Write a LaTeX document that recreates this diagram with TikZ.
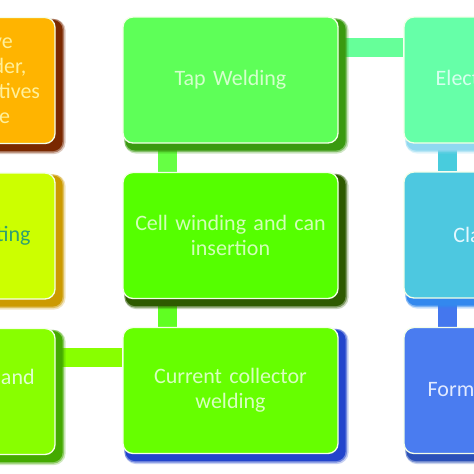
\documentclass[tikz,border=0pt]{standalone}
\usepackage{fontspec}
\setmainfont{Carlito}
\usetikzlibrary{calc}
\pgfdeclarelayer{bg}
\pgfdeclarelayer{bars}
\pgfdeclarelayer{shadows}
\pgfsetlayers{bg,bars,shadows,main}
\begin{document}
\begin{tikzpicture}[x=1pt,y=-1pt,
  box/.style={rounded corners=10pt, draw=#1, line width=1.3pt, minimum width=215pt, minimum height=126pt,
    inner sep=0pt, align=center, font=\fontsize{22}{25}\selectfont, text width=205pt},
  bar/.style={line width=19pt, draw=#1},
]
\definecolor{cLa}{HTML}{FFB400}\definecolor{sLa}{HTML}{7A2800}\definecolor{tLa}{HTML}{FFF09A}
\definecolor{cTap}{HTML}{5EFF58}\definecolor{sTap}{HTML}{3A9A10}\definecolor{tTap}{HTML}{D4FFCC}
\definecolor{cEl}{HTML}{66FFA8}\definecolor{sEl}{HTML}{8FD8F0}\definecolor{tEl}{HTML}{D6FFEE}
\definecolor{cLb}{HTML}{CCFF00}\definecolor{sLb}{HTML}{CC9A00}\definecolor{tLb}{HTML}{2FA070}
\definecolor{cCell}{HTML}{55FF00}\definecolor{sCell}{HTML}{2E5A00}\definecolor{tCell}{HTML}{D2FFB8}
\definecolor{cCl}{HTML}{4DC8E0}\definecolor{sCl}{HTML}{3388EE}\definecolor{tCl}{HTML}{E4F8FF}
\definecolor{cLc}{HTML}{88FF00}\definecolor{sLc}{HTML}{44AA00}\definecolor{tLc}{HTML}{E0FFD0}
\definecolor{cCur}{HTML}{66FF00}\definecolor{sCur}{HTML}{2244CC}\definecolor{tCur}{HTML}{D8FFC0}
\definecolor{cFo}{HTML}{4A7CF0}\definecolor{sFo}{HTML}{2A50B8}\definecolor{tFo}{HTML}{E2EAFF}
\definecolor{edge}{HTML}{F4FFE8}
\definecolor{bTE}{HTML}{66FF99}\definecolor{bTC}{HTML}{66FF44}\definecolor{bCC}{HTML}{60FF22}
\definecolor{bLC}{HTML}{88FF00}\definecolor{bEC}{HTML}{48CCDD}\definecolor{bCF}{HTML}{4477EE}

\begin{pgfonlayer}{bg}
\fill[white] (0,0) rectangle (474,474);
\end{pgfonlayer}
\useasboundingbox (0,0) rectangle (474,474);
\clip (0,0) rectangle (474,474);

% boxes
\node[box=edge, fill=cLa, text=tLa] (La) at (-52.5,80.5) {Mix the active\\materials, binder,\\conductive additives\\to form paste};
\node[box=edge, fill=cLb, text=tLb] (Lb) at (-52.5,236) {Electrodes coating};
\node[box=edge, fill=cLc, text=tLc] (Lc) at (-52.5,391.5) {Cutting, drying and\\calendering};
\node[box=edge, fill=cTap, text=tTap] (Tap) at (230.5,80) {Tap Welding};
\node[box=edge, fill=cCell, text=tCell] (Cell) at (230.5,235.5) {Cell winding and can\\insertion};
\node[box=edge, fill=cCur, text=tCur] (Cur) at (230.5,390.5) {Current collector\\welding};
\node[box=edge, fill=cEl, text=tEl] (El) at (511.5,80) {Electrolyte filling};
\node[box=edge, fill=cCl, text=tCl] (Cl) at (511.5,235) {Classification};
\node[box=edge, fill=cFo, text=tFo] (Fo) at (511.5,390.5) {Formation process};

% shadows
\begin{pgfonlayer}{shadows}
\foreach \p/\s in {La/sLa,Lb/sLb,Lc/sLc,Tap/sTap,Cell/sCell,Cur/sCur,El/sEl,Cl/sCl,Fo/sFo}{
  \fill[\s, opacity=0.25, rounded corners=12pt] ($(\p.north west)+(2,2)$) rectangle ($(\p.south east)+(10,10)$);
  \fill[\s, opacity=0.5, rounded corners=11pt] ($(\p.north west)+(2,2)$) rectangle ($(\p.south east)+(8.5,8.5)$);
  \fill[\s, rounded corners=10pt] ($(\p.north west)+(3,3)$) rectangle ($(\p.south east)+(7,7)$);
}
\end{pgfonlayer}

% connectors
\coordinate (vx) at (167.5,0);
\coordinate (rx) at (447.5,0);
\coordinate (hy1) at (0,47.5);
\coordinate (hy3) at (0,357.5);
\begin{pgfonlayer}{bars}
\draw[bar=bTE] (Tap.east |- hy1) -- (El.west |- hy1);
\draw[bar=bTC] (Tap.south -| vx) -- (Cell.north -| vx);
\draw[bar=bCC] (Cell.south -| vx) -- (Cur.north -| vx);
\draw[bar=bLC] (Lc.east |- hy3) -- (Cur.west |- hy3);
\draw[bar=bEC] (El.south -| rx) -- (Cl.north -| rx);
\draw[bar=bCF] (Cl.south -| rx) -- (Fo.north -| rx);
\end{pgfonlayer}
\end{tikzpicture}
\end{document}
